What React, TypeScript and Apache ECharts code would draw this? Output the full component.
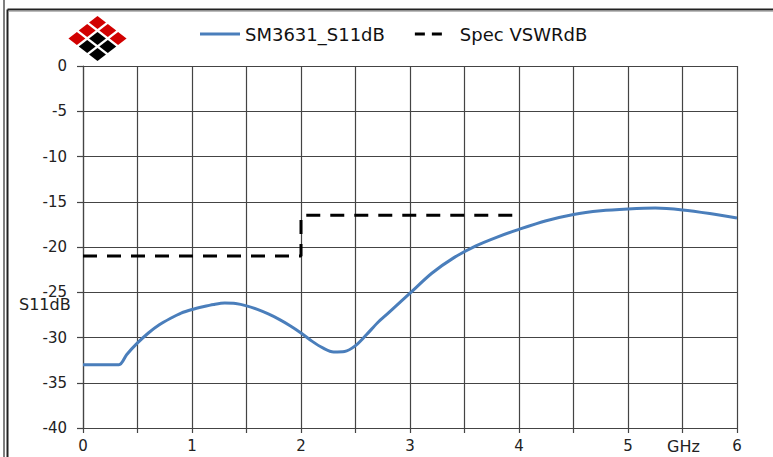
import React, { useEffect, useRef } from "react";
import * as echarts from "echarts";

// ---- data ----
const freqGHz = [
  0, 0.33, 0.4, 0.5, 0.6, 0.7, 0.8, 0.9, 1.0, 1.1, 1.2, 1.3, 1.4, 1.5, 1.6, 1.7, 1.8, 1.9,
  2.0, 2.1, 2.2, 2.3, 2.4, 2.5, 2.6, 2.7, 2.8, 2.9, 3.0, 3.2, 3.4, 3.6, 3.8, 4.0, 4.25,
  4.5, 4.75, 5.0, 5.25, 5.5, 5.75, 6.0,
];
const s11dB = [
  -33, -33, -31.9, -30.6, -29.5, -28.6, -27.9, -27.3, -26.9, -26.6, -26.35, -26.2, -26.25,
  -26.5, -26.9, -27.4, -28.0, -28.7, -29.5, -30.4, -31.15, -31.6, -31.55, -30.9, -29.7,
  -28.4, -27.3, -26.2, -25.1, -22.9, -21.2, -19.9, -18.9, -18.05, -17.1, -16.4, -16.0,
  -15.8, -15.7, -15.9, -16.3, -16.8,
];
const specFreqGHz = [0, 2, 2, 4];
const specVswrDb = [-21, -21, -16.5, -16.5];
const seriesNames = ["SM3631_S11dB", "Spec VSWRdB"];
const xAxisRange = [0, 6];
const yAxisRange = [-40, 0];
const xGridStep = 0.5;
const yGridStep = 5;
const yAxisTitle = "S11dB";
const xAxisTitle = "GHz";

const FONT = "DejaVu Sans";

function logoCells() {
  const cx = 97.5;
  const cy = 38.5;
  const dx = 10.3;
  const dy = 8.0;
  const k = 0.82;
  const out: any[] = [];
  for (let i = 0; i < 3; i++) {
    for (let j = 0; j < 3; j++) {
      const x = cx + (j - i) * dx;
      const y = cy + (i + j - 2) * dy;
      const hx = dx * k;
      const hy = dy * k;
      out.push({
        type: "polygon",
        shape: {
          points: [
            [x, y - hy],
            [x + hx, y],
            [x, y + hy],
            [x - hx, y],
          ],
        },
        style: { fill: i === 0 || j === 0 ? "#d10000" : "#000000" },
        silent: true,
      });
    }
  }
  return out;
}

export default function App() {
  const ref = useRef<HTMLDivElement>(null);

  useEffect(() => {
    if (!ref.current) return;
    const chart = echarts.init(ref.current, null, { renderer: "svg" });
    const gridColor = "#444";
    const option: any = {
      animation: false,
      backgroundColor: "#ffffff",
      grid: { left: 83, right: 36, top: 66, bottom: 29, containLabel: false },
      legend: {
        left: 200,
        top: 25,
        padding: 0,
        itemWidth: 40,
        itemHeight: 14,
        itemGap: 30,
        textStyle: { fontFamily: FONT, fontSize: 18, color: "#111" },
        data: [
          { name: seriesNames[0], icon: "path://M0,0H40V3H0Z" },
          {
            name: seriesNames[1],
            icon: "path://M0,0H10V3H0Z M17,0H27V3H17Z M40,0L40,3",
          },
        ],
      },
      xAxis: {
        type: "value",
        min: xAxisRange[0],
        max: xAxisRange[1],
        interval: xGridStep,
        axisLine: { show: true, onZero: false, lineStyle: { color: gridColor, width: 1.2 } },
        axisTick: { show: true, length: 5, lineStyle: { color: gridColor, width: 1.2 } },
        splitLine: { show: true, lineStyle: { color: gridColor, width: 1.2 } },
        axisLabel: {
          margin: 10,
          fontFamily: FONT,
          fontSize: 15,
          color: "#222",
          formatter: (v: number) => (Math.abs(v - Math.round(v)) < 1e-9 ? String(Math.round(v)) : ""),
        },
      },
      yAxis: {
        type: "value",
        min: yAxisRange[0],
        max: yAxisRange[1],
        interval: yGridStep,
        axisLine: { show: true, onZero: false, lineStyle: { color: gridColor, width: 1.2 } },
        axisTick: { show: true, length: 6, lineStyle: { color: gridColor, width: 1.2 } },
        splitLine: { show: true, lineStyle: { color: gridColor, width: 1.2 } },
        axisLabel: { margin: 16, fontFamily: FONT, fontSize: 15, color: "#222" },
      },
      series: [
        {
          name: seriesNames[0],
          type: "line",
          data: freqGHz.map((f, i) => [f, s11dB[i]]),
          showSymbol: false,
          symbol: "none",
          smooth: 0.3,
          lineStyle: { color: "#4a7ebb", width: 3 },
          itemStyle: { color: "#4a7ebb" },
          z: 3,
        },
        {
          name: seriesNames[1],
          type: "line",
          data: specFreqGHz.map((f, i) => [f, specVswrDb[i]]),
          showSymbol: false,
          symbol: "none",
          lineStyle: { color: "#000", width: 3, type: [14, 10] },
          itemStyle: { color: "#000" },
          z: 4,
        },
      ],
      graphic: [
        {
          type: "line",
          shape: { x1: 4, y1: 0, x2: 4, y2: 457 },
          style: { stroke: "#555", lineWidth: 1.5 },
          silent: true,
        },
        {
          type: "line",
          shape: { x1: 7.5, y1: 9.5, x2: 7.5, y2: 457 },
          style: { stroke: "#222", lineWidth: 2 },
          silent: true,
        },
        {
          type: "line",
          shape: { x1: 7.5, y1: 9.5, x2: 773, y2: 9.5 },
          style: { stroke: "#222", lineWidth: 2 },
          silent: true,
        },
        {
          type: "line",
          shape: { x1: 9, y1: 11.5, x2: 773, y2: 11.5 },
          style: { stroke: "#bbb", lineWidth: 1 },
          silent: true,
        },
        ...logoCells(),
        {
          type: "text",
          left: 19,
          top: 296,
          style: { text: yAxisTitle, fontFamily: FONT, fontSize: 16, fill: "#222" },
          z: 10,
        },
        {
          type: "text",
          left: 667,
          top: 438,
          style: { text: xAxisTitle, fontFamily: FONT, fontSize: 16, fill: "#222" },
          z: 10,
        },
      ],
    };
    chart.setOption(option);
    return () => chart.dispose();
  }, []);

  return (
    <div
      ref={ref}
      style={{ position: "fixed", left: 0, top: 0, width: 773, height: 457, background: "#fff" }}
    />
  );
}
